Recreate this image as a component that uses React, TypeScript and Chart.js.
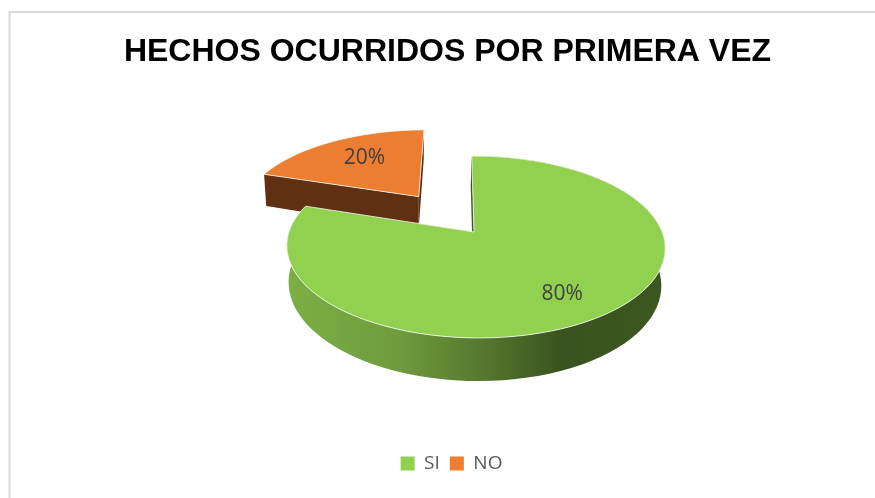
import React, { useEffect, useRef } from "react";
import { Chart, registerables } from "chart.js";

Chart.register(...registerables);

const TITLE = "HECHOS OCURRIDOS POR PRIMERA VEZ";
const categories = ["SI", "NO"];
const seriesValues = [80, 20];
const sliceColors = ["#92D050", "#ED7D31"];
const explodePercent = [0, 53];
const labelRadius = [0.74, 0.7];
const labelNudge: [number, number][] = [[-4, 3], [8, 1]];

const VIEW = { cx: 474, cy: 232, sx: 186.6, sy: 88.5, k: 0.1648, m: -0.008, skew: -0.03, depth: 36 };
const STEPS = 90;

type P = [number, number];

function project(u: number, v: number, bottom = false): P {
  const w = 1 + VIEW.k * v + VIEW.m * u;
  const Y = (VIEW.sy * v) / w;
  const X = (VIEW.sx * u) / w + VIEW.skew * Y;
  if (!bottom) return [VIEW.cx + X, VIEW.cy - Y];
  return [VIEW.cx + X * 0.985 - 1, VIEW.cy - Y + VIEW.depth / w];
}

function sliceGeometry(arc: any) {
  const a0 = arc.startAngle + Math.PI / 2;
  const a1 = arc.endAngle + Math.PI / 2;
  const mid = (a0 + a1) / 2;
  const d = (arc.options.offset || 0) / 100;
  const ox = Math.sin(mid) * d;
  const oy = Math.cos(mid) * d;
  const at = (a: number, r = 1, bottom = false) =>
    project(ox + Math.sin(a) * r, oy + Math.cos(a) * r, bottom);
  return { a0, a1, mid, at };
}

function poly(ctx: CanvasRenderingContext2D, pts: P[], fill: string | CanvasGradient, stroke?: string) {
  ctx.beginPath();
  pts.forEach((p, i) => (i ? ctx.lineTo(p[0], p[1]) : ctx.moveTo(p[0], p[1])));
  ctx.closePath();
  ctx.fillStyle = fill;
  ctx.fill();
  if (stroke) {
    ctx.strokeStyle = stroke;
    ctx.lineWidth = 1;
    ctx.stroke();
  }
}

function drawSlice(ctx: CanvasRenderingContext2D, arc: any, color: string, index: number) {
  const { a0, a1, at } = sliceGeometry(arc);
  const rim: P[] = [];
  const rimLow: P[] = [];
  for (let i = 0; i <= STEPS; i++) {
    const a = a0 + ((a1 - a0) * i) / STEPS;
    rim.push(at(a));
    rimLow.push(at(a, 1, true));
  }
  const apex = at(0, 0);
  const apexLow = at(0, 0, true);
  const wallColor = index === 0 ? "#3F5C22" : "#5F3012";

  if (index === 0) {
    const g = ctx.createLinearGradient(287, 0, 665, 0);
    g.addColorStop(0, "#7BB045");
    g.addColorStop(0.3, "#6F9A3D");
    g.addColorStop(0.52, "#55782E");
    g.addColorStop(0.73, "#3A521F");
    g.addColorStop(1, "#3D5721");
    poly(ctx, [...rim, ...rimLow.slice().reverse()], g);
  }
  poly(ctx, [apex, rim[0], rimLow[0], apexLow], wallColor);
  poly(ctx, [apex, rim[STEPS], rimLow[STEPS], apexLow], wallColor);
  poly(ctx, [apex, ...rim], color, "rgba(255,255,255,0.75)");
}

const pie3dPlugin = {
  id: "pie3d",
  afterLayout(chart: any) {
    chart.legend.left += 4;
    chart.legend.right += 4;
  },
  beforeDraw(chart: any) {
    const { ctx } = chart;
    ctx.save();
    ctx.strokeStyle = "#D9D9D9";
    ctx.lineWidth = 2;
    ctx.beginPath();
    ctx.moveTo(9.5, chart.height);
    ctx.lineTo(9.5, 12);
    ctx.lineTo(chart.width, 12);
    ctx.stroke();
    ctx.restore();
  },
  beforeDatasetDraw(chart: any, args: any) {
    const { ctx } = chart;
    const arcs = chart.getDatasetMeta(args.index).data;
    const colors = chart.data.datasets[args.index].backgroundColor;
    ctx.save();
    [1, 0].forEach((i) => drawSlice(ctx, arcs[i], colors[i], i));
    const total = seriesValues.reduce((s, v) => s + v, 0);
    ctx.fillStyle = "#404040";
    ctx.font = '21px "Open Sans"';
    ctx.textAlign = "center";
    ctx.textBaseline = "middle";
    arcs.forEach((arc: any, i: number) => {
      const { mid, at } = sliceGeometry(arc);
      const [x, y] = at(mid, labelRadius[i]);
      ctx.fillText(`${Math.round((seriesValues[i] / total) * 100)}%`, x + labelNudge[i][0], y + labelNudge[i][1]);
    });
    ctx.restore();
    return false;
  },
};

export default function App() {
  const ref = useRef<HTMLCanvasElement>(null);
  useEffect(() => {
    const chart = new Chart(ref.current!, {
      type: "pie",
      data: {
        labels: categories,
        datasets: [
          {
            data: seriesValues,
            backgroundColor: sliceColors,
            offset: explodePercent,
            borderWidth: 0,
          },
        ],
      },
      options: {
        responsive: false,
        animation: false,
        layout: { padding: { left: 20, bottom: 15 } },
        plugins: {
          tooltip: { enabled: false },
          title: {
            display: true,
            text: TITLE,
            color: "#000000",
            font: { family: '"Liberation Sans"', size: 32, weight: "bold" },
            padding: { top: 33, bottom: 10 },
          },
          legend: {
            position: "bottom",
            labels: {
              color: "#595959",
              font: { family: '"Open Sans"', size: 19 },
              boxWidth: 14,
              boxHeight: 14,
              padding: 10,
            },
          },
        },
      },
      plugins: [pie3dPlugin],
    } as any);
    return () => chart.destroy();
  }, []);
  return (
    <div style={{ position: "absolute", left: 0, top: 0, width: 875, height: 498, background: "#fff" }}>
      <canvas ref={ref} width={875} height={498} style={{ display: "block" }} />
    </div>
  );
}
